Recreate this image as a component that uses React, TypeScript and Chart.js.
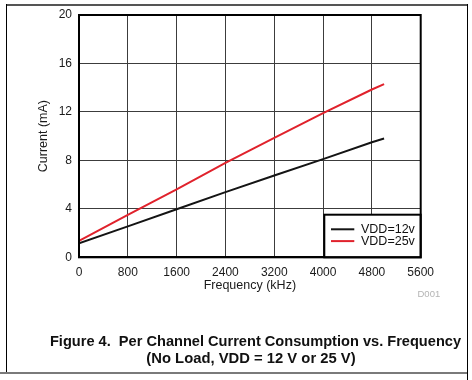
import React, { useEffect, useRef } from "react";
import { Chart, registerables } from "chart.js";

Chart.register(...registerables);

const frequencies = [0, 800, 1600, 2400, 3200, 4000, 4800, 5000];
const current12 = [1.15, 2.55, 3.97, 5.38, 6.75, 8.1, 9.5, 9.8];
const current25 = [1.35, 3.5, 5.6, 7.8, 9.85, 11.9, 13.85, 14.3];
const seriesLabels = ["VDD=12v", "VDD=25v"];
const seriesColors = ["#141414", "#e0222c"];
const xTicks = [0, 800, 1600, 2400, 3200, 4000, 4800, 5600];
const yTicks = [0, 4, 8, 12, 16, 20];
const xTitle = "Frequency (kHz)";
const yTitle = "Current (mA)";
const captionLine1 = "Figure 4.  Per Channel Current Consumption vs. Frequency";
const captionLine2 = "(No Load, VDD = 12 V or 25 V)";
const figId = "D001";

const FONT = '"Liberation Sans", Arial, Helvetica, sans-serif';

const framePlugin = {
  id: "frameAndLegend",
  afterDraw(chart: any) {
    const { ctx, chartArea: a } = chart;
    ctx.save();
    const bw = 96.4;
    const bh = 42.6;
    const bx = a.right - bw;
    const by = a.bottom - bh;
    ctx.fillStyle = "#ffffff";
    ctx.fillRect(bx, by, bw, bh);
    ctx.lineWidth = 2;
    ctx.strokeStyle = "#000000";
    ctx.strokeRect(bx, by, bw, bh);
    chart.data.datasets.forEach((ds: any, i: number) => {
      const y = by + 14.6 + i * 11.8;
      ctx.beginPath();
      ctx.strokeStyle = ds.borderColor;
      ctx.lineWidth = 2;
      ctx.moveTo(bx + 6.7, y);
      ctx.lineTo(bx + 30, y);
      ctx.stroke();
      ctx.fillStyle = "#111111";
      ctx.font = `12.5px ${FONT}`;
      ctx.textBaseline = "middle";
      ctx.textAlign = "left";
      ctx.fillText(ds.label, bx + 36.7, y);
    });
    ctx.strokeStyle = "#000000";
    ctx.lineWidth = 2;
    ctx.strokeRect(a.left, a.top, a.right - a.left, a.bottom - a.top);
    ctx.restore();
  },
};

export default function App() {
  const canvasRef = useRef<HTMLCanvasElement | null>(null);

  useEffect(() => {
    if (!canvasRef.current) return;
    const datasets = [current12, current25].map((vals, i) => ({
      label: seriesLabels[i],
      data: vals.map((v, j) => ({ x: frequencies[j], y: v })),
      borderColor: seriesColors[i],
      backgroundColor: seriesColors[i],
      borderWidth: 2,
      pointRadius: 0,
      tension: 0,
      fill: false,
    }));
    const chart = new Chart(canvasRef.current, {
      type: "line",
      data: { datasets },
      options: {
        responsive: false,
        animation: false,
        events: [],
        layout: { padding: { left: 36.5, top: 15, right: 51.3, bottom: 86.8 } },
        plugins: {
          legend: { display: false },
          tooltip: { enabled: false },
          title: { display: false },
        },
        scales: {
          x: {
            type: "linear",
            min: 0,
            max: 5600,
            afterBuildTicks: (s: any) => {
              s.ticks = xTicks.map((v) => ({ value: v }));
            },
            afterFit: (s: any) => {
              s.height = 35.9;
            },
            grid: { color: "#3c3c3c", lineWidth: 1, drawTicks: false },
            border: { display: true, color: "#000", width: 2 },
            ticks: {
              padding: 8,
              color: "#1a1a1a",
              font: { family: FONT, size: 12 },
              maxRotation: 0,
              autoSkip: false,
              callback: (v: any) => String(v),
            },
            title: {
              display: true,
              text: xTitle,
              color: "#1a1a1a",
              font: { family: FONT, size: 12.5 },
              padding: 0,
            },
          },
          y: {
            type: "linear",
            min: 0,
            max: 20,
            afterBuildTicks: (s: any) => {
              s.ticks = yTicks.map((v) => ({ value: v }));
            },
            afterFit: (s: any) => {
              s.width = 42.5;
            },
            grid: { color: "#3c3c3c", lineWidth: 1, drawTicks: false },
            border: { display: true, color: "#000", width: 2 },
            ticks: {
              padding: 7,
              color: "#1a1a1a",
              font: { family: FONT, size: 12 },
              autoSkip: false,
              callback: (v: any) => String(v),
            },
            title: {
              display: true,
              text: yTitle,
              color: "#1a1a1a",
              font: { family: FONT, size: 12.5 },
              padding: 0,
            },
          },
        },
      },
      plugins: [framePlugin],
    } as any);
    return () => chart.destroy();
  }, []);

  return (
    <div
      style={{
        position: "absolute",
        left: 0,
        top: 0,
        width: 472,
        height: 380,
        background: "#ffffff",
        overflow: "hidden",
        fontFamily: FONT,
      }}
    >
      <canvas
        ref={canvasRef}
        width={472}
        height={380}
        style={{ position: "absolute", left: 0, top: 0, width: 472, height: 380 }}
      />
      {/* outer frame */}
      <div style={{ position: "absolute", left: 6, top: 4, width: 462, height: 1.5, background: "#555" }} />
      <div style={{ position: "absolute", left: 5.5, top: 4, width: 1.5, height: 368, background: "#000" }} />
      <div style={{ position: "absolute", left: 466.5, top: 4, width: 1.5, height: 376, background: "#000" }} />
      <div style={{ position: "absolute", left: 0, top: 372, width: 467, height: 2, background: "#7a7a7a" }} />
      <div
        style={{
          position: "absolute",
          left: 417.5,
          top: 287.5,
          fontSize: 9.5,
          lineHeight: "12px",
          color: "#b4b4b4",
          whiteSpace: "pre",
        }}
      >
        {figId}
      </div>
      <div
        style={{
          position: "absolute",
          left: 5.5,
          width: 500,
          top: 332,
          fontSize: 14.6,
          lineHeight: "18px",
          fontWeight: "bold",
          color: "#111",
          textAlign: "center",
          whiteSpace: "pre",
        }}
      >
        {captionLine1}
      </div>
      <div
        style={{
          position: "absolute",
          left: 1,
          width: 500,
          top: 349,
          fontSize: 14.8,
          lineHeight: "18px",
          fontWeight: "bold",
          color: "#111",
          textAlign: "center",
          whiteSpace: "pre",
        }}
      >
        {captionLine2}
      </div>
    </div>
  );
}
